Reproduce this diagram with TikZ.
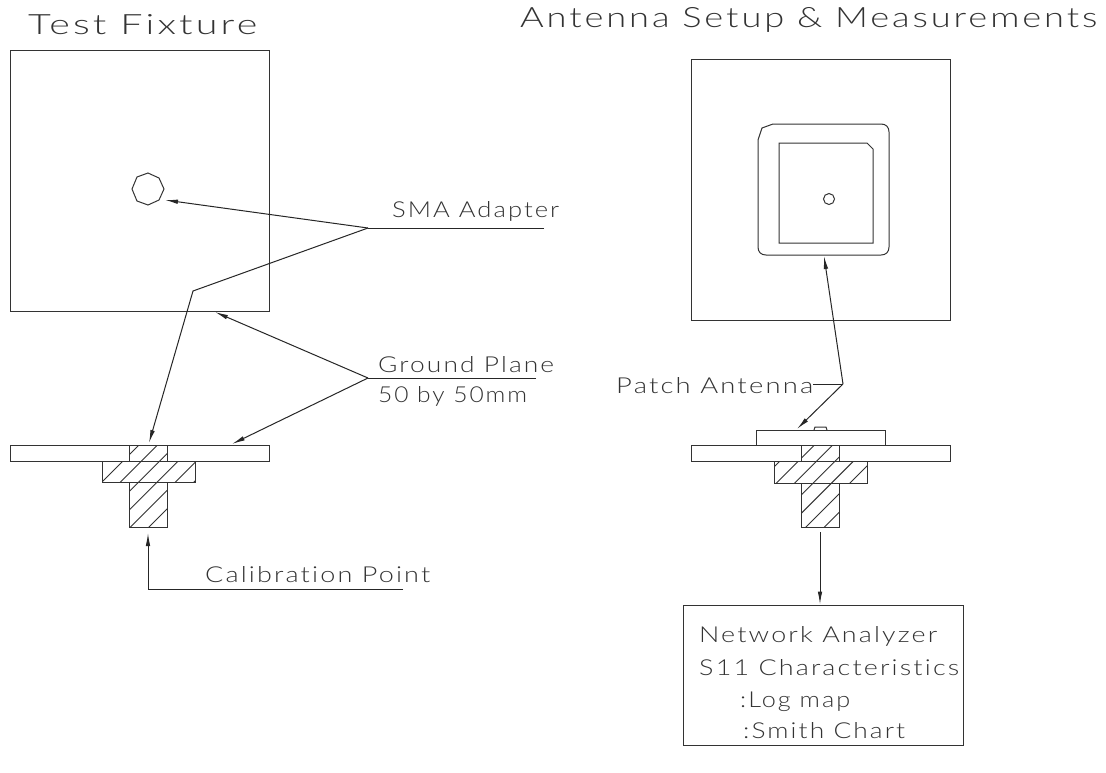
\documentclass[tikz,border=0pt]{standalone}
\usepackage{fontspec}
\usepackage{graphicx}
\setmainfont{Lato Light}
\usetikzlibrary{arrows.meta}
\newfontface\lblfont{Lato Light}[LetterSpace=8,Ligatures=NoCommon]
\newcommand{\fitw}[2]{\resizebox{#1pt}{\height}{#2}}
\tikzset{
  x=1pt,y=-1pt,
  ln/.style={draw=black!80,line width=1pt},
  lead/.style={draw=black!85,line width=1pt},
  arr/.style={lead,-{Latex[length=13pt,width=4.5pt]}},
  hatchline/.style={draw=black!80,line width=0.9pt},
  lbl/.style={anchor=base west,inner sep=0pt,text=black!80,font=\fontsize{22}{22}\selectfont\lblfont},
  ttl/.style={anchor=base west,inner sep=0pt,text=black!80,font=\fontsize{28}{28}\selectfont\lblfont},
}
\newcommand{\hatchlines}[3]{%
  \foreach \c in {#1,#2,...,#3} \draw[hatchline] (\c-800,800) -- (\c,0);
}
\begin{document}
\begin{tikzpicture}
\useasboundingbox[fill=white] (0,0) rectangle (1106,772);
% titles
\node[ttl] (t1) at (28,34) {\fitw{229}{Test Fixture}};
\node[ttl] (t2) at (520,27) {\fitw{577}{Antenna Setup \& Measurements}};
% left top view
\draw[ln] (10,50) rectangle (269,311);
\draw[ln] (148,173) -- (159,178) -- (164,189) -- (159,200) -- (148,205) -- (137,201) -- (132,189) -- (137,177) -- cycle;
% left section
\begin{scope}
\clip (129,445) rectangle (167,527) (102,461) rectangle (195,482);
\hatchlines{584}{602.4}{676}
\end{scope}
\draw[ln] (10,445) rectangle (269,461);
\draw[ln] (102,461) rectangle (195,482);
\draw[ln] (129,445) -- (129,461) (167,445) -- (167,461);
\draw[ln] (129,482) -- (129,527) -- (167,527) -- (167,482);
% left labels
\node[lbl] (sma) at (392,217) {\fitw{167}{SMA Adapter}};
\node[lbl] (gp) at (378,372) {\fitw{176}{Ground Plane}};
\node[lbl] (gpb) at (378,402) {\fitw{149}{50 by 50mm}};
\node[lbl] (cal) at (205,582) {\fitw{225}{Calibration Point}};
\coordinate (smaE) at (544,228);
\coordinate (smaJ) at (368,228);
\coordinate (smaT) at (165,200);
\coordinate (bend) at (193,291);
\coordinate (smaB) at (149,443);
\coordinate (gpE) at (536,378);
\coordinate (gpJ) at (368,378);
\coordinate (gpT1) at (215,312);
\coordinate (gpT2) at (232,444);
\coordinate (calE) at (403,589);
\coordinate (calJ) at (148,589);
\coordinate (calT) at (148,533);
\draw[lead] (smaE) -- (smaJ);
\draw[arr] (smaJ) -- (smaT);
\draw[arr] (smaJ) -- (bend) -- (smaB);
\draw[lead] (gpE) -- (gpJ);
\draw[arr] (gpJ) -- (gpT1);
\draw[arr] (gpJ) -- (gpT2);
\draw[arr] (calE) -- (calJ) -- (calT);
% right top view
\draw[ln] (691,59) rectangle (950,320);
\draw[ln] (758,140) -- (762,128) -- (773,124) -- (881,124) .. controls (886,124) and (889,127) .. (889,132)
  -- (889,247) .. controls (889,252) and (886,255) .. (881,255) -- (766,255) .. controls (761,255) and (758,252) .. (758,247) -- cycle;
\draw[ln] (779,143) -- (867,143) -- (873,149) -- (873,243) -- (779,243) -- cycle;
\draw[ln] (829,199) circle (5.5);
% right section
\begin{scope}
\clip (801,445) rectangle (839,527) (774,461) rectangle (867,483);
\hatchlines{1241}{1259.4}{1352}
\end{scope}
\draw[ln] (691,445) rectangle (950,461);
\draw[ln] (756,445) -- (756,430) -- (885,430) -- (885,445);
\draw[ln] (814,430) -- (815,427) -- (826,427) -- (827,430);
\draw[ln] (774,461) rectangle (867,483);
\draw[ln] (801,445) -- (801,461) (839,445) -- (839,461);
\draw[ln] (801,483) -- (801,527) -- (839,527) -- (839,483);
% right labels
\node[lbl] (pa) at (616,393) {\fitw{197}{Patch Antenna}};
\coordinate (paJ) at (843,384);
\coordinate (paT1) at (824,256);
\coordinate (paT2) at (797,429);
\draw[lead] (pa.base east |- paJ) -- (paJ);
\draw[arr] (paJ) -- (paT1);
\draw[arr] (paJ) -- (paT2);
% analyzer
\node[draw=black!80,line width=1pt,minimum width=280pt,minimum height=140pt,inner sep=0pt] (na) at (823,675) {};
\coordinate (sec) at (820,532);
\draw[arr] (sec) -- (sec |- na.north);
\node[lbl] (n1) at (699,642) {\fitw{238}{Network Analyzer}};
\node[lbl] (n2) at (699,675) {\fitw{260}{S11 Characteristics}};
\node[lbl] (n3) at (740,707) {\fitw{110}{:Log map}};
\node[lbl] (n4) at (743,738) {\fitw{162}{:Smith Chart}};
\end{tikzpicture}
\end{document}
